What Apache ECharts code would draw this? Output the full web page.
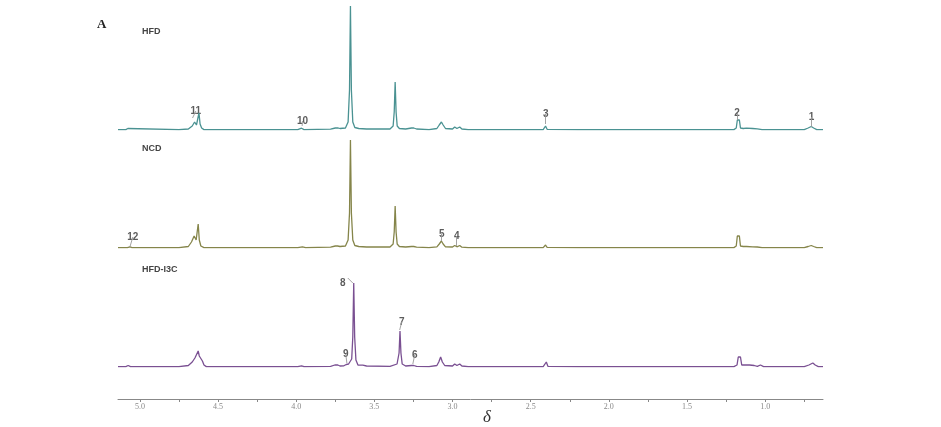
<!DOCTYPE html>
<html><head><meta charset="utf-8">
<script src="https://cdn.jsdelivr.net/npm/echarts@6/dist/echarts.min.js"></script>
<style>html,body{margin:0;padding:0;background:#fff}#c{width:941px;height:427px}</style>
</head><body><div id="c"></div>
<script>
// chemical shift axis (ppm) tick values
const tickValues = [0.75,1.0,1.25,1.5,1.75,2.0,2.25,2.5,2.75,3.0,3.25,3.5,3.75,4.0,4.25,4.5,4.75,5.0];
const labelValues = [1.0,1.5,2.0,2.5,3.0,3.5,4.0,4.5,5.0];
const traceNames = ['HFD','NCD','HFD-I3C'];

// spectra: [ppm, intensity]
const hfd = [[5.14,0.4],[5.09,0.4],[5.077,1.5],[5.065,0.4],[4.75,0.4],[4.69,1],[4.665,4],[4.65,8],[4.638,5],[4.63,7],[4.622,17],[4.615,6],[4.605,2],[4.59,0.4],[4.50,0.4],[4.49,1.5],[4.48,0.4],[3.99,0.4],[3.966,1.8],[3.95,0.4],[3.78,0.8],[3.75,2],[3.735,2.2],[3.72,1.5],[3.685,2],[3.668,8],[3.659,40],[3.653,124],[3.647,40],[3.638,8],[3.625,2.5],[3.60,1.5],[3.55,1],[3.40,1],[3.38,4],[3.373,18],[3.367,48],[3.361,18],[3.354,4],[3.34,1.5],[3.30,1],[3.262,2],[3.248,2],[3.23,1],[3.15,0.4],[3.10,1.5],[3.085,5],[3.071,8],[3.06,5],[3.045,1.5],[3.0,1],[2.986,3],[2.972,1.5],[2.954,3],[2.94,1],[2.90,0.4],[2.60,0.4],[2.59,1],[2.57,0.4],[2.42,0.4],[2.405,4],[2.395,0.7],[2.20,0.4],[1.86,0.4],[1.85,1.2],[1.83,0.4],[1.20,0.4],[1.185,2],[1.178,10],[1.17,9],[1.165,10],[1.158,2],[1.14,1.5],[1.12,1.8],[1.08,1.5],[1.05,1.2],[1.02,0.4],[0.75,0.4],[0.725,2],[0.705,3.5],[0.69,2],[0.67,0.4],[0.63,0.3]];
const ncd = [[5.14,0.4],[5.08,0.4],[5.064,1.2],[5.05,0.4],[4.75,0.4],[4.69,1.5],[4.67,6],[4.653,12],[4.64,8],[4.632,9],[4.627,24],[4.62,8],[4.61,2],[4.59,0.4],[4.50,0.4],[4.49,1.2],[4.48,0.4],[3.99,0.4],[3.96,1.2],[3.94,0.4],[3.78,0.8],[3.75,2],[3.735,2],[3.72,1.5],[3.685,2],[3.668,8],[3.659,35],[3.653,108],[3.647,35],[3.638,8],[3.625,2.5],[3.60,1.5],[3.55,1],[3.40,1],[3.38,4],[3.373,16],[3.367,42],[3.361,16],[3.354,4],[3.34,1.5],[3.30,1],[3.262,1.5],[3.248,1.5],[3.23,0.8],[3.15,0.4],[3.10,1.2],[3.085,4],[3.071,7],[3.06,4],[3.045,1.2],[3.0,1],[2.986,2.5],[2.972,1.2],[2.954,2.5],[2.94,0.8],[2.90,0.4],[2.60,0.4],[2.59,0.8],[2.57,0.4],[2.42,0.4],[2.405,3],[2.395,0.6],[2.20,0.4],[1.86,0.4],[1.85,1],[1.83,0.4],[1.20,0.4],[1.185,2],[1.178,12],[1.17,10],[1.165,12],[1.158,2],[1.14,1.5],[1.12,1.5],[1.08,1.2],[1.05,1],[1.02,0.4],[0.75,0.4],[0.725,1.5],[0.705,2.5],[0.69,1.5],[0.67,0.4],[0.63,0.3]];
const i3c = [[5.14,0.4],[5.09,0.4],[5.075,1.5],[5.06,0.4],[4.75,0.4],[4.69,1.5],[4.665,5],[4.648,9],[4.638,7],[4.627,16],[4.62,11],[4.612,12],[4.60,6],[4.59,2],[4.575,0.4],[4.50,0.4],[4.49,1],[4.48,0.4],[3.99,0.4],[3.966,1.2],[3.95,0.4],[3.78,0.6],[3.753,2],[3.744,1.2],[3.734,2],[3.72,1],[3.695,1.2],[3.68,2.5],[3.665,3],[3.645,8],[3.638,30],[3.632,84],[3.626,30],[3.618,7],[3.605,2],[3.574,1.8],[3.55,1],[3.40,0.6],[3.355,3],[3.342,14],[3.336,36],[3.33,14],[3.322,3],[3.30,1],[3.262,1.5],[3.248,1.5],[3.23,0.6],[3.15,0.4],[3.10,1.5],[3.088,5],[3.076,10],[3.065,5],[3.05,1.5],[3.0,1],[2.986,3],[2.972,1.5],[2.954,3],[2.94,1],[2.90,0.4],[2.60,0.4],[2.59,1],[2.57,0.4],[2.42,0.4],[2.40,5],[2.39,0.7],[2.20,0.4],[1.86,0.4],[1.856,1],[1.83,0.4],[1.20,0.4],[1.18,2],[1.172,10],[1.164,8],[1.158,10],[1.15,2],[1.13,2],[1.10,2],[1.07,1.5],[1.05,0.6],[1.03,2],[1.01,0.4],[0.75,0.4],[0.72,2],[0.695,4],[0.68,2],[0.66,0.4],[0.63,0.3]];

// peak annotations: [label, lower ppm, lower intensity, upper ppm, upper intensity]
const hfdPeaks = [['11',4.663,12,4.642,19],['10',3.962,4,3.96,9],['3',2.404,6,2.404,16],['2',1.18,10,1.18,17],['1',0.703,3,0.703,13]];
const ncdPeaks = [['12',5.064,1,5.045,11],['5',3.069,7,3.069,14],['4',2.973,2,2.973,12]];
const i3cPeaks = [['8',3.638,84,3.670,89],['9',3.676,4,3.683,13],['7',3.338,37,3.325,45],['6',3.254,3,3.242,12]];

const colors = ['#4a9292','#85854a','#7a5092'];
const spectra = [hfd, ncd, i3c];
const peaks = [hfdPeaks, ncdPeaks, i3cPeaks];
const labelOffsets = {'8':[-5,-1]};

const grids = [{top:5},{top:123},{top:242}].map(g=>({left:118,right:118,top:g.top,height:125}));
const xAxes = grids.map((g,i)=>({
  gridIndex:i, type:'value', min:0.63, max:5.14, inverse:true, show:i===2, offset:32,
  axisLine:{onZero:false,lineStyle:{color:'#888',width:1}},
  axisTick:{show:true,length:3,customValues:tickValues,lineStyle:{color:'#888'}},
  axisLabel:{customValues:labelValues,formatter:v=>v.toFixed(1),color:'#888',fontFamily:'Liberation Serif',fontSize:8,margin:4},
  splitLine:{show:false}
}));
const yAxes = grids.map((g,i)=>({gridIndex:i,type:'value',min:0,max:125,show:false}));

const series = [];
spectra.forEach((d,i)=>{
  series.push({
    type:'line', xAxisIndex:i, yAxisIndex:i, data:d, showSymbol:false, smooth:false,
    lineStyle:{color:colors[i],width:1.3}, silent:true,
    markLine:{silent:true,symbol:'none',label:{show:false},lineStyle:{color:'#999',width:0.9,type:'solid'},
      data:peaks[i].map(p=>[{coord:[p[1],p[2]]},{coord:[p[3],p[4]]}])}
  });
  series.push({
    type:'scatter', xAxisIndex:i, yAxisIndex:i, symbolSize:0, silent:true,
    data:peaks[i].map(p=>({value:[p[3],p[4]],name:p[0]})),
    label:{show:true,position:'inside',formatter:p=>p.name,color:'#333',fontFamily:'Liberation Sans',fontSize:10,fontWeight:'bold',
      offset:[0,-6]},
    labelLayout:p=>{const o=labelOffsets[peaks[i][p.dataIndex][0]];return o?{dx:o[0],dy:o[1]+6}:{};}
  });
});

const chart = echarts.init(document.getElementById('c'),null,{renderer:'canvas'});
chart.setOption({
  backgroundColor:'#fff', animation:false,
  grid:grids, xAxis:xAxes, yAxis:yAxes, series:series,
  graphic:[
    {type:'text',left:97,top:18,style:{text:'A',font:'bold 13px "Liberation Serif"',fill:'#222'}},
    {type:'text',left:142,top:27,style:{text:traceNames[0],font:'bold 9px "Liberation Sans"',fill:'#444'}},
    {type:'text',left:142,top:144,style:{text:traceNames[1],font:'bold 9px "Liberation Sans"',fill:'#444'}},
    {type:'text',left:142,top:265,style:{text:traceNames[2],font:'bold 9px "Liberation Sans"',fill:'#444'}},
    {type:'text',left:483,top:409,style:{text:'δ',font:'italic 17px "Liberation Serif"',fill:'#333'}}
  ]
});
</script></body></html>
